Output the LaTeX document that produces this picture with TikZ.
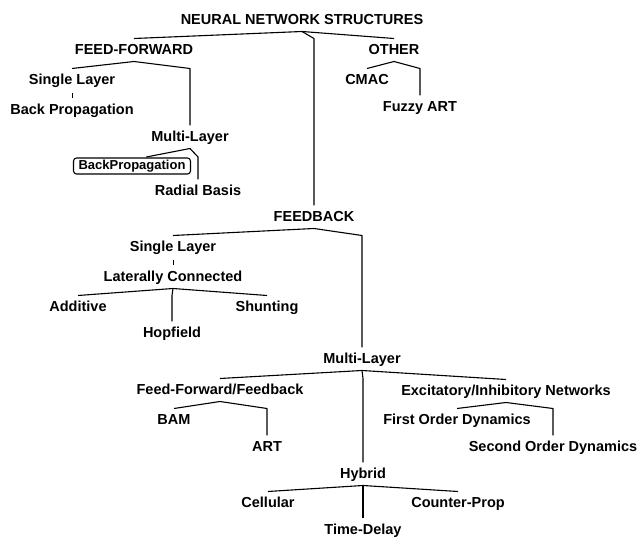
\documentclass[tikz,border=0pt]{standalone}
\usepackage{fontspec}
\setmainfont{Liberation Sans}
\usetikzlibrary{calc}

\begin{document}
\begin{tikzpicture}[x=1pt, y=-1pt, line width=1.1pt, line join=round,
    lbl/.style={font=\fontsize{14.5}{17}\selectfont\bfseries, inner sep=0pt, outer sep=5pt, text height=11pt, text depth=2pt},
    pbox/.style={draw, rounded corners=3pt, font=\fontsize{13}{15}\selectfont\bfseries, inner xsep=5pt, inner ysep=1.5pt, outer sep=1pt, text height=10pt, text depth=3pt},
    tick/.style={line width=0.8pt, shorten <=2pt}]
    \useasboundingbox (0,0) rectangle (641,537);

    % top level
    \node[lbl] (nns) at (302,20) {NEURAL NETWORK STRUCTURES};
    \node[lbl] (ff) at (134,50) {FEED-FORWARD};
    \node[lbl] (oth) at (394,50) {OTHER};
    \node[lbl] (fb) at (314,217) {FEEDBACK};

    % feed-forward
    \node[lbl] (sl1) at (72,80) {Single Layer};
    \node[lbl] (bp1) at (72,110) {Back Propagation};
    \node[lbl] (ml1) at (190,137) {Multi-Layer};
    \node[pbox] (bpbox) at (132,166) {BackPropagation};
    \node[lbl] (rb) at (198,191) {Radial Basis};

    % other
    \node[lbl] (cmac) at (367,80) {CMAC};
    \node[lbl] (fart) at (420,107) {Fuzzy ART};

    % feedback, single layer
    \node[lbl] (sl2) at (173,247) {Single Layer};
    \node[lbl] (lc) at (173,277) {Laterally Connected};
    \node[lbl] (add) at (78,307) {Additive};
    \node[lbl] (hop) at (172,333) {Hopfield};
    \node[lbl] (shu) at (267,307) {Shunting};

    % feedback, multi-layer
    \node[lbl] (ml2) at (362,359) {Multi-Layer};
    \node[lbl] (fffb) at (220,390) {Feed-Forward/Feedback};
    \node[lbl] (exin) at (506,391) {Excitatory/Inhibitory Networks};
    \node[lbl] (bam) at (174,420) {BAM};
    \node[lbl] (art) at (267,447) {ART};
    \node[lbl] (fod) at (457,420) {First Order Dynamics};
    \node[lbl] (sod) at (553,447) {Second Order Dynamics};
    \node[lbl] (hyb) at (363,474) {Hybrid};
    \node[lbl] (cel) at (268,503) {Cellular};
    \node[lbl] (cp) at (458,503) {Counter-Prop};
    \node[lbl] (td) at (363,530) {Time-Delay};

    % brackets
    \draw (ff.north) -- (nns.south) -- (oth.north);
    \draw (nns.south) -- (fb.north |- ff.north) -- (fb.north);
    \draw (sl1.north) -- (ff.south) -- (ml1.north |- sl1.north) -- (ml1.north);
    \draw[tick] (sl1.south) -- (bp1.north);
    \draw (ml1.west |- bpbox.north) -- (ml1.south) -- (rb.north |- bpbox.north) -- (rb.north);
    \draw (cmac.north) -- (oth.south) -- (fart.north |- cmac.north) -- (fart.north);
    \draw (sl2.north) -- (fb.south) -- (ml2.north |- sl2.north) -- (ml2.north);
    \draw[tick] (sl2.south) -- (lc.north);
    \draw (add.north) -- (lc.south) -- (shu.north);
    \draw (lc.south) -- (hop.north |- add.north) -- (hop.north);
    \draw (fffb.north) -- (ml2.south) -- (exin.north);
    \draw (ml2.south) -- (hyb.north |- fffb.north) -- (hyb.north);
    \draw (bam.north) -- (fffb.south) -- (art.north |- bam.north) -- (art.north);
    \draw (fod.north) -- (exin.south) -- (sod.north |- fod.north) -- (sod.north);
    \draw (cel.north) -- (hyb.south) -- (cp.north);
    \draw (hyb.south) -- (td.north |- cel.north) -- (td.north);
\end{tikzpicture}
\end{document}
